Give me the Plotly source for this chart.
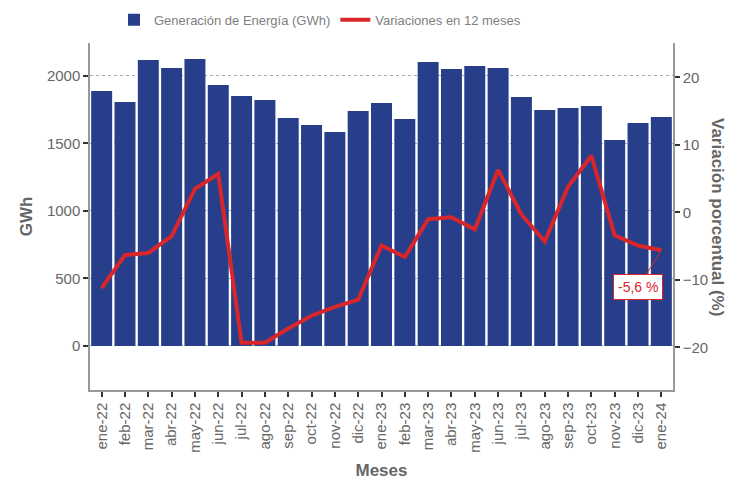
import plotly.graph_objects as go

meses = ["ene-22", "feb-22", "mar-22", "abr-22", "may-22", "jun-22", "jul-22", "ago-22",
         "sep-22", "oct-22", "nov-22", "dic-22", "ene-23", "feb-23", "mar-23", "abr-23",
         "may-23", "jun-23", "jul-23", "ago-23", "sep-23", "oct-23", "nov-23", "dic-23", "ene-24"]
generacion = [1889, 1807, 2119, 2059, 2126, 1933, 1852, 1822, 1689, 1637, 1585, 1741,
              1800, 1681, 2104, 2052, 2074, 2059, 1844, 1748, 1763, 1778, 1526, 1652, 1696]
variacion = [-11.2, -6.3, -6.0, -3.5, 3.5, 5.7, -19.3, -19.3, -17.2, -15.3, -14.0, -12.9,
             -4.9, -6.6, -1.0, -0.7, -2.5, 6.3, -0.3, -4.3, 3.8, 8.4, -3.4, -4.9, -5.6]

grey = "#666666"
font = "Liberation Sans, Arial, sans-serif"

fig = go.Figure()
fig.add_trace(go.Bar(x=meses, y=generacion, name="Generación de Energía (GWh)",
                     marker=dict(color="#273F8B", line=dict(width=0))))
fig.add_trace(go.Scatter(x=meses, y=variacion, name="Variaciones en 12 meses",
                         mode="lines", yaxis="y2",
                         line=dict(color="#D8262B", width=4)))

fig.add_annotation(x=meses[-1], y=variacion[-1], yref="y2", text="-5,6 %",
                   showarrow=True, arrowhead=0, arrowcolor="#D8262B", arrowwidth=1,
                   ax=-23, ay=37, font=dict(color="#D8262B", size=14, family=font),
                   bgcolor="white", bordercolor="#D8262B", borderwidth=1, borderpad=4)
fig.add_annotation(x=1.0, xref="paper", xshift=56, y=0.5, yref="paper",
                   text="<b>Variación porcentual (%)</b>", textangle=90, showarrow=False,
                   font=dict(size=17, color=grey, family=font))

axis_common = dict(showline=True, linecolor="#999999", linewidth=1.5, ticks="outside",
                   ticklen=5, tickwidth=2, tickcolor="#333333", automargin=False,
                   tickfont=dict(size=15, color=grey, family=font))

fig.update_layout(
    width=744, height=480,
    margin=dict(l=90, r=71, t=43, b=90),
    plot_bgcolor="white", paper_bgcolor="white",
    bargap=0.1,
    xaxis=dict(**axis_common, tickangle=-90, showgrid=False,
               title=dict(text="<b>Meses</b>", font=dict(size=17, color=grey, family=font),
                          standoff=14)),
    yaxis=dict(**axis_common, range=[-326, 2244], tickvals=[0, 500, 1000, 1500, 2000],
               showgrid=True, gridcolor="#aaaaaa", griddash="dot", gridwidth=1,
               zeroline=False,
               title=dict(text="<b>GWh</b>", font=dict(size=17, color=grey, family=font),
                          standoff=10)),
    yaxis2=dict(**axis_common, overlaying="y", side="right", range=[-26.3, 25.1],
                tickvals=[-20, -10, 0, 10, 20], showgrid=False, zeroline=False),
    legend=dict(orientation="h", x=114 / 744, y=0.99, xref="container", yref="container",
                xanchor="left", yanchor="top",
                font=dict(size=13, color="#808080", family=font)),
)

fig.write_html("out.html", config={"displayModeBar": False},
               post_script="document.body.style.margin='0';")
